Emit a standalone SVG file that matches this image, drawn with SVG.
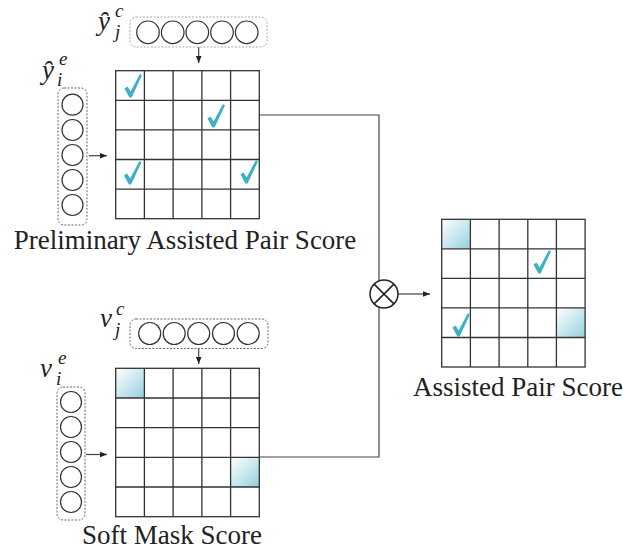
<svg xmlns="http://www.w3.org/2000/svg" width="623" height="550" viewBox="0 0 623 550">
<style>
.grid{fill:none;stroke:#333;stroke-width:1.3}
.vbox{fill:none;stroke:#666;stroke-width:1;stroke-dasharray:2 1.5}
.vbox2{fill:none;stroke:#aaa;stroke-width:1;stroke-dasharray:2 1.5}
.cir{fill:#fff;stroke:#333;stroke-width:1.2}
.conn{fill:none;stroke:#444;stroke-width:1.2}
.lbl{font-family:"Liberation Serif","Times New Roman",serif;font-size:27px;fill:#222}
.m{font-family:"Liberation Serif","Times New Roman",serif;font-style:italic;fill:#222;font-size:27px}
.s{font-family:"Liberation Serif","Times New Roman",serif;font-style:italic;fill:#222;font-size:19px}
.chk{fill:#3cb0c9}
</style>
<defs>
<marker id="ah" viewBox="0 0 10 10" refX="10" refY="5" markerWidth="7" markerHeight="7" markerUnits="userSpaceOnUse" orient="auto">
<path d="M0,1 L10,5 L0,9 Z" fill="#222"/>
</marker>
<linearGradient id="sh" x1="0" y1="0" x2="1" y2="1">
<stop offset="0" stop-color="#ffffff"/>
<stop offset="0.55" stop-color="#c6e6ee"/>
<stop offset="1" stop-color="#94cfdd"/>
</linearGradient>
<path id="chk" d="M0.5,14.5 L3.6,12.4 L6.6,17.6 L15.8,0.3 L18,1.2 L7.6,23.6 L5.4,23.6 Z"/>
</defs>

<g id="connectors">
<path class="conn" d="M259.3,115 H379 V457 H259.3"/>
<line class="conn" x1="198.7" y1="47" x2="198.7" y2="63" marker-end="url(#ah)"/>
<line class="conn" x1="89" y1="155.7" x2="107" y2="155.7" marker-end="url(#ah)"/>
<line class="conn" x1="198.7" y1="348.5" x2="198.7" y2="364" marker-end="url(#ah)"/>
<line class="conn" x1="86" y1="454.5" x2="107" y2="454.5" marker-end="url(#ah)"/>
<line class="conn" x1="398" y1="294" x2="430" y2="294" marker-end="url(#ah)"/>
</g>

<g id="multiply">
<circle cx="384" cy="294" r="14" fill="#fff" stroke="#222" stroke-width="1.5"/>
<path d="M374.1,284.1 L393.9,303.9 M393.9,284.1 L374.1,303.9" stroke="#222" stroke-width="1.5"/>
</g>

<g id="yjc">
<rect class="vbox2" x="130" y="17" width="137" height="30" rx="6"/>
<circle class="cir" cx="148" cy="32.3" r="11.3"/>
<circle class="cir" cx="172.7" cy="32.3" r="11.3"/>
<circle class="cir" cx="197.3" cy="32.3" r="11.3"/>
<circle class="cir" cx="222" cy="32.3" r="11.3"/>
<circle class="cir" cx="246.7" cy="32.3" r="11.3"/>
<text class="m" x="98" y="30">y&#x311;</text>
<text class="s" x="115" y="17">c</text>
<text class="s" x="115" y="38">j</text>
</g>

<g id="yie">
<rect class="vbox" x="58" y="88" width="29" height="137" rx="6"/>
<circle class="cir" cx="72.5" cy="104.7" r="10.5"/>
<circle class="cir" cx="72.5" cy="130" r="10.5"/>
<circle class="cir" cx="72.5" cy="155" r="10.5"/>
<circle class="cir" cx="72.5" cy="180" r="10.5"/>
<circle class="cir" cx="72.5" cy="205" r="10.5"/>
<text class="m" x="42" y="79">y&#x311;</text>
<text class="s" x="59" y="65">e</text>
<text class="s" x="57" y="86">i</text>
</g>

<g id="vjc">
<rect class="vbox" x="130" y="319" width="138" height="29.5" rx="6"/>
<circle class="cir" cx="149.7" cy="333.5" r="11"/>
<circle class="cir" cx="174.2" cy="333.5" r="11"/>
<circle class="cir" cx="198.7" cy="333.5" r="11"/>
<circle class="cir" cx="223.5" cy="333.5" r="11"/>
<circle class="cir" cx="248.2" cy="333.5" r="11"/>
<text class="m" x="100" y="327">v</text>
<text class="s" x="116" y="315">c</text>
<text class="s" x="115" y="336">j</text>
</g>

<g id="vie">
<rect class="vbox" x="57" y="387" width="28" height="133" rx="6"/>
<circle class="cir" cx="71" cy="402" r="10.5"/>
<circle class="cir" cx="71" cy="427" r="10.5"/>
<circle class="cir" cx="71" cy="452" r="10.5"/>
<circle class="cir" cx="71" cy="477" r="10.5"/>
<circle class="cir" cx="71" cy="502" r="10.5"/>
<text class="m" x="40" y="377">v</text>
<text class="s" x="58" y="364">e</text>
<text class="s" x="56" y="385">i</text>
</g>

<g id="prelim">
<rect class="grid" x="115.7" y="70.7" width="143.6" height="148"/>
<path class="grid" d="M144.4,70.7V218.7 M173.1,70.7V218.7 M201.9,70.7V218.7 M230.6,70.7V218.7 M115.7,100.3H259.3 M115.7,129.9H259.3 M115.7,159.5H259.3 M115.7,189.1H259.3"/>
<use href="#chk" class="chk" x="124" y="74"/>
<use href="#chk" class="chk" x="207" y="104"/>
<use href="#chk" class="chk" x="123.5" y="161"/>
<use href="#chk" class="chk" x="240" y="160"/>
<text class="lbl" x="185" y="249" text-anchor="middle">Preliminary Assisted Pair Score</text>
</g>

<g id="softmask">
<rect x="115.7" y="368.3" width="28.7" height="29.7" fill="url(#sh)"/>
<rect x="230.6" y="457.3" width="28.7" height="29.7" fill="url(#sh)"/>
<rect class="grid" x="115.7" y="368.3" width="143.6" height="148.4"/>
<path class="grid" d="M144.4,368.3V516.7 M173.1,368.3V516.7 M201.9,368.3V516.7 M230.6,368.3V516.7 M115.7,398H259.3 M115.7,427.7H259.3 M115.7,457.3H259.3 M115.7,487H259.3"/>
<text class="lbl" x="172" y="544" text-anchor="middle">Soft Mask Score</text>
</g>

<g id="assisted">
<rect x="441.7" y="219.3" width="28.7" height="29.5" fill="url(#sh)"/>
<rect x="556.4" y="307.9" width="28.7" height="29.6" fill="url(#sh)"/>
<rect class="grid" x="441.7" y="219.3" width="143.4" height="147.7"/>
<path class="grid" d="M470.4,219.3V367 M499.1,219.3V367 M527.8,219.3V367 M556.4,219.3V367 M441.7,248.8H585.1 M441.7,278.4H585.1 M441.7,307.9H585.1 M441.7,337.5H585.1"/>
<use href="#chk" class="chk" x="533" y="250"/>
<use href="#chk" class="chk" x="452" y="313"/>
<text class="lbl" x="518" y="396" text-anchor="middle">Assisted Pair Score</text>
</g>
</svg>
